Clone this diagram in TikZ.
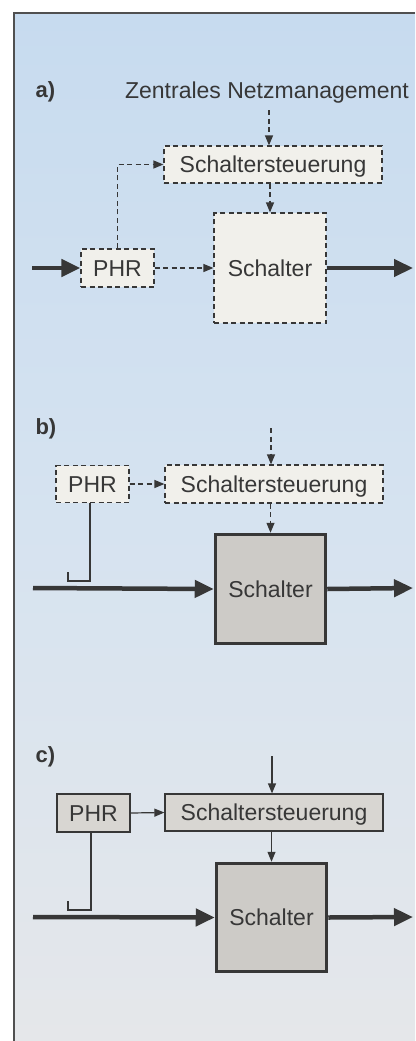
\documentclass[tikz,border=0pt]{standalone}
\usepackage{fontspec}
\setmainfont{Liberation Sans}
\usetikzlibrary{arrows.meta}
\definecolor{ink}{RGB}{55,55,55}
\definecolor{frameink}{RGB}{80,80,80}
\definecolor{bgtop}{RGB}{199,219,239}
\definecolor{bgmid}{RGB}{214,227,240}
\definecolor{bgbot}{RGB}{229,231,234}
\definecolor{paleFill}{RGB}{241,240,235}
\definecolor{grayFill}{RGB}{216,214,210}
\definecolor{darkFill}{RGB}{205,203,199}
\begin{document}
\begin{tikzpicture}[x=1pt,y=-1pt,
  font=\fontsize{23}{27}\selectfont, text=ink,
  box/.style={draw=ink, rectangle, inner sep=0pt, anchor=center, text height=16.5pt, text depth=0pt},
  dbox/.style={box, dash pattern=on 5pt off 3.5pt, line width=1.2pt, fill=paleFill},
  sbox/.style={box, line width=1.2pt, fill=grayFill},
  bigbox/.style={box, line width=3.5pt, fill=darkFill},
  darrow/.style={draw=ink, line width=1.2pt, dash pattern=on 5pt off 3.5pt, -{Triangle[length=10pt,width=8pt]}},
  sarrow/.style={draw=ink, line width=1.2pt, -{Triangle[length=10pt,width=8pt]}},
  fatarrow/.style={draw=ink, line width=4.5pt, -{Triangle[length=19pt,width=17pt]}},
  hookline/.style={draw=ink, line width=1.4pt},
  lbl/.style={anchor=base west, font=\fontsize{22}{26}\selectfont\bfseries}
]
\useasboundingbox (0,0) rectangle (415,1041);
\shade[top color=bgtop, bottom color=bgbot, middle color=bgmid] (14,13) rectangle (415,1041);
\draw[frameink, line width=1.5pt] (415,13) -- (14,13) -- (14,1041);

% ---------- a) ----------
\node[lbl] (la) at (32,97) {a)};
\node[anchor=base] (zn) at (267,99) {Zentrales Netzmanagement};
\node[dbox, minimum width=218pt, minimum height=37pt] (ssa) at (273,164.5) {Schaltersteuerung};
\node[dbox, minimum width=112pt, minimum height=110pt] (scha) at (270,268) {Schalter};
\node[dbox, minimum width=73pt, minimum height=38pt] (phra) at (117.5,268) {PHR};
\coordinate (zta) at (269,110);
\coordinate (ina) at (32,268);
\coordinate (outa) at (413,268);
\draw[darrow] (zta) -- (zta |- ssa.north);
\draw[darrow] (scha.north |- ssa.south) -- (scha.north);
\draw[darrow] (phra.north) |- (ssa.west);
\draw[darrow] (phra.east) -- (scha.west);
\draw[fatarrow] (ina) -- (phra.west);
\draw[fatarrow] (scha.east) -- (outa);

% ---------- b) ----------
\node[lbl] (lb) at (32,434) {b)};
\node[dbox, minimum width=218pt, minimum height=38pt] (ssb) at (274,484) {Schaltersteuerung};
\node[dbox, minimum width=73pt, minimum height=37pt] (phrb) at (92.5,484) {PHR};
\node[bigbox, minimum width=110pt, minimum height=109pt] (schb) at (270.5,589) {Schalter};
\coordinate (ztb) at (271,428);
\coordinate (inb) at (33,588);
\coordinate (outb) at (413,588);
\draw[darrow] (ztb) -- (ztb |- ssb.north);
\draw[darrow] (phrb.east) -- (ssb.west);
\draw[darrow] (schb.north |- ssb.south) -- (schb.north);
\draw[fatarrow] (inb) -- (schb.west);
\draw[fatarrow] (schb.east) -- (outb);
\draw[hookline] ([xshift=-2.5pt]phrb.south) -- ([xshift=-2.5pt]phrb.south |- 0,581) -- (68,581) -- (68,572);

% ---------- c) ----------
\node[lbl] (lc) at (32,762) {c)};
\node[sbox, minimum width=218pt, minimum height=37pt] (ssc) at (274,812.5) {Schaltersteuerung};
\node[sbox, minimum width=73pt, minimum height=38pt] (phrc) at (93.5,813) {PHR};
\node[bigbox, minimum width=110pt, minimum height=108pt] (schc) at (271.5,917.5) {Schalter};
\coordinate (ztc) at (272,756);
\coordinate (inc) at (33,917);
\coordinate (outc) at (413,917);
\draw[sarrow] (ztc) -- (ztc |- ssc.north);
\draw[sarrow] (phrc.east) -- (ssc.west);
\draw[sarrow] (schc.north |- ssc.south) -- (schc.north);
\draw[fatarrow] (inc) -- (schc.west);
\draw[fatarrow] (schc.east) -- (outc);
\draw[hookline] ([xshift=-2.5pt]phrc.south) -- ([xshift=-2.5pt]phrc.south |- 0,910) -- (68,910) -- (68,901);
\end{tikzpicture}
\end{document}
